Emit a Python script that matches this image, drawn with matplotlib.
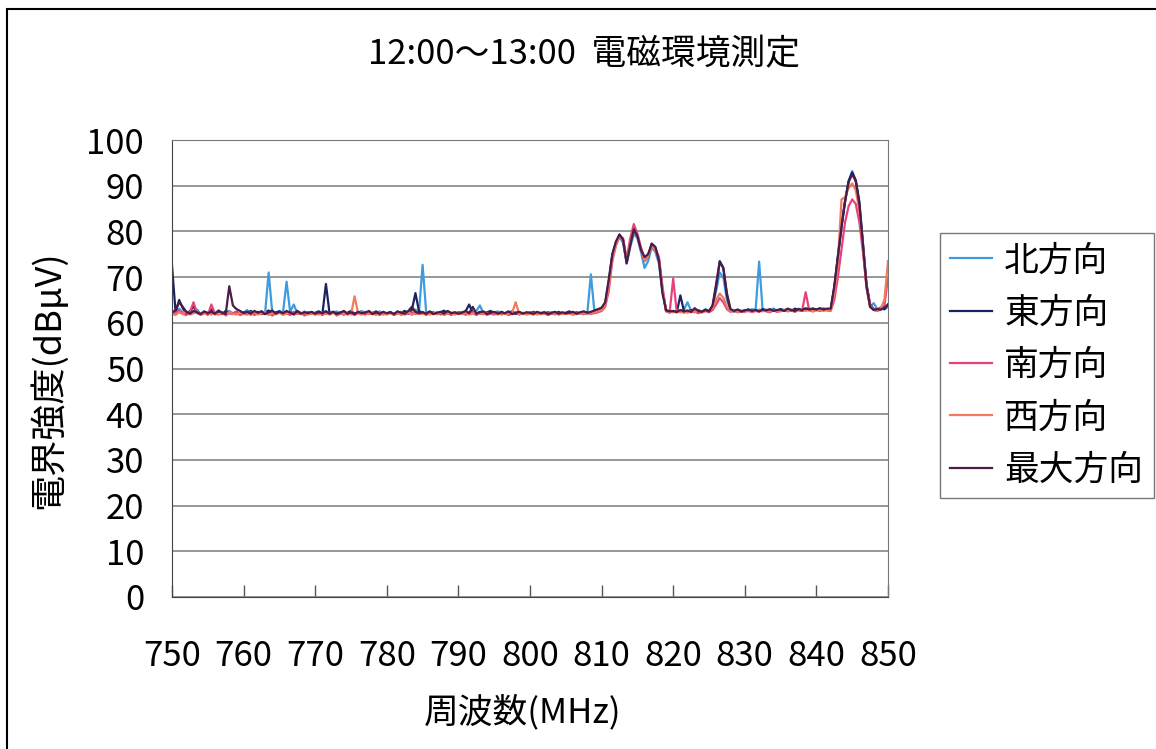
import numpy as np
import matplotlib
matplotlib.use('Agg')
import matplotlib.pyplot as plt
from matplotlib.patches import Rectangle

plt.rcParams['font.family'] = ['Noto Sans CJK JP', 'DejaVu Sans']

# 周波数 750〜850 MHz、0.5 MHz 間隔 (201 点)
freq = np.linspace(750, 850, 201)

north = [
    62.4, 62.0, 63.1, 62.2, 61.8, 62.6, 62.1, 62.9, 61.9, 62.3, 62.0, 62.7, 61.8, 62.4, 62.2, 61.9, 62.6, 62.1, 62.3, 61.8,
    62.2, 62.8, 61.9, 62.4, 62.0, 62.5, 62.1, 71.0, 62.3, 62.0, 62.6, 62.2, 69.0, 62.4, 64.0, 62.1, 61.9, 62.5, 62.0, 62.3,
    61.9, 62.4, 62.1, 62.6, 61.8, 62.2, 62.5, 61.9, 62.3, 62.0, 62.4, 61.8, 62.2, 62.6, 62.0, 61.9, 62.3, 62.1, 62.5, 61.8,
    62.1, 62.4, 61.9, 62.3, 62.0, 62.6, 62.2, 61.8, 62.9, 62.4, 72.7, 62.3, 62.0, 62.4, 61.9, 62.2, 62.7, 62.1, 61.9, 62.3,
    62.0, 62.4, 61.8, 62.3, 62.1, 62.6, 63.8, 62.0, 62.3, 61.9, 62.2, 62.5, 61.8, 62.1, 62.4, 62.0, 62.3, 61.9, 62.2, 62.0,
    62.3, 61.9, 62.2, 62.0, 62.4, 61.8, 62.1, 62.3, 61.9, 62.2, 62.0, 62.4, 62.1, 61.9, 62.2, 62.3, 62.0, 70.6, 62.4, 62.6,
    63.2, 64.0, 68.5, 74.5, 77.0, 78.8, 77.5, 73.0, 76.5, 79.5, 78.5, 75.5, 72.0, 73.5, 76.5, 75.5, 73.0, 67.0, 62.8, 62.5,
    62.3, 62.7, 62.4, 62.9, 64.5, 62.6, 62.3, 62.8, 62.5, 62.9, 62.6, 63.5, 67.0, 71.0, 70.0, 65.0, 62.8, 62.5, 62.9, 62.6,
    62.8, 62.5, 63.0, 62.7, 73.4, 62.6, 62.9, 62.5, 63.1, 62.7, 62.9, 62.6, 63.0, 62.8, 62.5, 63.1, 62.7, 62.9, 63.2, 62.8,
    63.0, 62.8, 63.2, 62.9, 62.8, 67.5, 74.5, 81.0, 86.5, 91.0, 93.2, 91.0, 85.5, 77.0, 68.0, 63.5, 64.3, 63.0, 63.4, 62.9,
    63.5,
]

east = [
    72.5, 62.3, 65.0, 63.2, 62.0, 62.5, 63.6, 62.2, 61.8, 62.4, 62.1, 62.9, 62.0, 62.3, 61.9, 62.6, 62.2, 62.0, 62.4, 61.9,
    62.3, 62.0, 62.6, 62.1, 62.4, 61.9, 62.2, 62.7, 62.0, 62.3, 62.5, 61.9, 62.2, 62.4, 62.0, 62.6, 62.1, 61.9, 62.3, 62.0,
    62.2, 62.5, 61.9, 68.5, 62.1, 62.4, 62.0, 62.3, 61.8, 62.2, 62.6, 62.0, 62.3, 61.9, 62.4, 62.1, 62.0, 62.5, 61.9, 62.2,
    62.0, 62.3, 61.9, 62.4, 62.1, 62.6, 62.0, 62.8, 66.5, 62.5, 62.3, 62.0, 62.4, 62.1, 61.9, 62.3, 62.6, 62.0, 62.2, 61.9,
    62.3, 62.1, 62.5, 64.0, 62.2, 61.9, 62.4, 62.0, 62.3, 62.6, 62.1, 61.9, 62.4, 62.0, 62.2, 62.5, 61.9, 62.3, 62.0, 62.2,
    62.1, 62.4, 61.9, 62.2, 62.0, 62.3, 62.1, 61.9, 62.4, 62.0, 62.2, 62.5, 62.0, 62.3, 62.1, 62.4, 62.2, 62.0, 62.5, 62.8,
    63.0, 64.2, 69.0, 75.0, 77.5, 79.3, 78.0, 73.2, 77.3, 80.3, 79.0, 76.0, 73.5, 74.5, 77.3, 76.5, 74.0, 67.0, 62.8, 62.4,
    62.5, 62.3, 66.0, 62.6, 62.4, 62.8, 62.5, 62.7, 62.3, 62.9, 62.6, 63.6, 68.0, 73.5, 72.0, 66.0, 62.8, 62.5, 62.8, 62.4,
    62.6, 62.9, 62.5, 62.8, 62.6, 63.0, 62.7, 62.5, 62.9, 62.6, 63.0, 62.7, 62.9, 62.6, 63.1, 62.8, 62.6, 63.0, 62.8, 63.1,
    62.9, 63.1, 62.8, 63.0, 63.0, 67.8, 74.4, 81.0, 86.7, 91.0, 92.9, 91.2, 86.5, 77.5, 68.5, 64.0, 63.0, 62.8, 63.2, 63.0,
    64.0,
]

south = [
    61.8, 62.2, 62.6, 62.0, 61.7, 62.3, 64.5, 62.1, 61.9, 62.4, 61.7, 64.0, 62.0, 61.8, 62.3, 61.6, 62.1, 61.9, 62.4, 61.7,
    62.0, 61.8, 62.3, 61.7, 62.1, 62.5, 61.9, 62.2, 61.6, 62.0, 62.3, 61.8, 62.1, 61.7, 62.4, 61.9, 62.2, 61.6, 62.0, 62.3,
    61.8, 62.1, 61.7, 62.2, 61.9, 62.4, 61.6, 62.0, 62.3, 61.8, 62.1, 61.7, 62.2, 62.0, 61.8, 62.4, 61.9, 62.1, 61.7, 62.2,
    61.9, 62.2, 61.7, 62.0, 62.4, 61.8, 62.1, 62.3, 61.9, 62.0, 62.2, 61.7, 62.1, 61.9, 62.3, 61.8, 62.0, 62.2, 61.7, 62.1,
    61.9, 62.2, 61.8, 62.0, 62.3, 61.7, 62.1, 61.9, 62.2, 62.0, 61.8, 62.3, 61.9, 62.1, 61.7, 62.0, 62.2, 61.8, 62.1, 61.9,
    62.0, 61.8, 62.2, 61.9, 62.1, 61.7, 62.0, 62.3, 61.8, 62.1, 61.9, 62.2, 61.8, 62.0, 62.1, 61.9, 62.2, 62.0, 62.1, 62.3,
    62.6, 63.5, 67.0, 73.5, 77.0, 79.0, 78.5, 74.0, 78.5, 81.6, 79.5, 76.5, 74.0, 75.0, 77.0, 76.0, 74.5, 68.0, 62.5, 62.2,
    69.7, 62.3, 62.5, 62.2, 62.6, 62.3, 62.5, 62.1, 62.4, 62.6, 62.3, 62.8, 64.0, 65.4, 64.5, 63.0, 62.4, 62.6, 62.3, 62.5,
    62.4, 62.7, 62.3, 62.6, 62.4, 62.8, 62.5, 62.3, 62.7, 62.4, 62.6, 62.8, 62.5, 62.7, 62.4, 62.9, 62.6, 66.7, 62.7, 62.5,
    62.8, 62.6, 62.9, 62.7, 62.6, 65.0, 70.0, 76.0, 82.0, 85.5, 87.0, 86.0, 82.0, 75.5, 68.0, 64.0, 62.8, 62.6, 62.9, 63.8,
    70.0,
]

west = [
    62.0, 61.7, 62.3, 61.9, 62.5, 61.8, 62.1, 62.4, 61.7, 62.0, 62.2, 61.8, 62.3, 61.9, 62.1, 61.7, 62.4, 62.0, 61.8, 62.2,
    61.9, 62.1, 61.7, 62.3, 61.8, 62.0, 62.4, 61.7, 62.1, 61.9, 62.2, 61.8, 62.0, 62.3, 61.7, 62.1, 61.9, 62.2, 61.8, 62.0,
    62.1, 61.8, 62.2, 61.9, 62.0, 62.3, 61.7, 62.1, 61.9, 62.2, 61.8, 65.8, 62.0, 61.8, 62.3, 61.9, 62.1, 61.7, 62.2, 62.0,
    61.8, 62.1, 61.9, 62.2, 61.7, 62.0, 62.3, 61.8, 62.1, 61.9, 62.0, 62.2, 61.8, 62.1, 61.9, 62.3, 61.7, 62.0, 62.2, 61.8,
    62.1, 61.9, 62.2, 61.8, 62.0, 62.3, 61.9, 62.1, 61.7, 62.0, 62.2, 61.8, 62.1, 61.9, 62.0, 62.2, 64.5, 61.9, 62.1, 61.8,
    62.0, 62.2, 61.8, 62.1, 61.9, 62.0, 62.3, 61.8, 62.1, 61.9, 62.2, 62.0, 61.8, 62.1, 62.0, 62.2, 61.9, 62.1, 62.3, 62.5,
    62.8, 63.8, 68.0, 74.0, 77.0, 79.0, 78.0, 73.5, 77.5, 80.5, 79.0, 76.0, 73.5, 74.5, 76.8, 76.0, 74.0, 67.5, 62.6, 62.3,
    62.4, 62.6, 62.3, 62.5, 62.2, 62.6, 62.4, 62.7, 62.3, 62.5, 62.7, 63.2, 65.0, 66.4, 65.5, 63.5, 62.5, 62.7, 62.4, 62.6,
    62.5, 62.8, 62.4, 62.6, 62.9, 62.5, 62.7, 62.4, 62.8, 62.6, 62.5, 62.9, 62.6, 62.8, 62.5, 62.7, 62.9, 62.6, 62.8, 62.5,
    62.7, 62.9, 62.6, 62.8, 62.7, 66.5, 73.0, 87.0, 87.5, 89.5, 90.5, 89.0, 84.5, 76.5, 67.5, 63.5, 62.9, 62.7, 63.2, 65.0,
    73.5,
]

maximum = [
    62.2, 62.8, 64.5, 63.5, 62.4, 62.0, 62.6, 62.3, 61.9, 62.5, 62.1, 62.4, 62.0, 62.7, 62.2, 61.9, 68.0, 63.8, 63.0, 62.6,
    62.1, 62.4, 62.0, 62.6, 62.2, 62.5, 61.9, 62.3, 62.7, 62.0, 62.4, 62.1, 62.6, 62.2, 61.9, 62.5, 62.0, 62.3, 62.1, 62.4,
    62.0, 62.3, 62.1, 62.5, 62.0, 62.4, 61.9, 62.2, 62.6, 62.0, 62.3, 61.9, 62.4, 62.1, 62.2, 62.6, 61.9, 62.3, 62.0, 62.4,
    62.1, 62.3, 61.9, 62.5, 62.2, 62.0, 62.6, 63.5, 62.4, 62.1, 62.3, 62.0, 62.5, 61.9, 62.2, 62.4, 62.0, 62.6, 62.1, 62.3,
    62.0, 62.2, 62.6, 62.1, 63.5, 62.0, 62.3, 62.5, 61.9, 62.2, 62.4, 62.0, 62.3, 62.1, 62.5, 61.9, 62.2, 62.4, 62.0, 62.3,
    62.2, 62.0, 62.4, 62.1, 62.3, 61.9, 62.2, 62.4, 62.0, 62.3, 62.1, 62.2, 62.4, 62.0, 62.3, 62.5, 62.2, 62.4, 62.7, 63.0,
    63.3, 64.5, 69.5, 75.0, 77.8, 79.3, 78.2, 73.0, 77.0, 80.5, 79.0, 76.0, 74.4, 75.0, 77.3, 76.6, 73.7, 66.5, 62.7, 62.5,
    62.6, 62.4, 62.8, 62.5, 62.7, 62.4, 63.2, 62.6, 62.4, 62.8, 62.5, 63.8, 68.5, 73.3, 72.0, 66.5, 63.0, 62.6, 62.9, 62.5,
    62.7, 62.9, 62.6, 62.8, 62.5, 62.9, 62.7, 63.0, 62.6, 62.8, 62.9, 62.6, 63.1, 62.8, 62.6, 63.0, 62.8, 63.2, 62.9, 63.1,
    62.9, 63.2, 62.9, 63.1, 63.1, 68.0, 74.5, 81.0, 86.5, 90.8, 92.5, 91.0, 86.0, 77.0, 68.0, 63.5, 62.8, 63.0, 62.9, 63.3,
    64.0,
]

series = [north, east, south, west, maximum]
labels = ['北方向', '東方向', '南方向', '西方向', '最大方向']
colors = ['#3d9be0', '#1b2260', '#e8427c', '#f27b5b', '#4b1c47']

W, H = 1156, 749
fig = plt.figure(figsize=(W / 100, H / 100), dpi=100)
fig.patch.set_facecolor('white')

# 外枠
fig.patches.append(Rectangle((7 / W, -0.05), 1.2, 1 - 9 / H + 0.05, transform=fig.transFigure,
                             fill=False, edgecolor='black', linewidth=1.5))

ax = fig.add_axes([172 / W, 1 - 597 / H, (888 - 172) / W, (597 - 140) / H])

for y, lab, c in zip(series, labels, colors):
    ax.plot(freq, y, color=c, linewidth=1.6, label=lab)

ax.set_xlim(750, 850)
ax.set_ylim(0, 100)
ax.set_xticks(np.arange(750, 851, 10))
ax.set_yticks(np.arange(0, 101, 10))
ax.yaxis.grid(True, color='#7a7a7a', linewidth=1.1)
ax.set_axisbelow(True)

ax.tick_params(axis='x', direction='in', length=9, width=1, color='#555555', labelsize=25, pad=30)
ax.tick_params(axis='y', length=0, labelsize=25, pad=20)
for s in ['left', 'bottom']:
    ax.spines[s].set_color('#444444')
for s in ['top', 'right']:
    ax.spines[s].set_color('#777777')

fig.text(584 / W, 1 - 55 / H, '12:00～13:00  電磁環境測定', ha='center', va='center', fontsize=25)
fig.text(523 / W, 1 - 712 / H, '周波数(MHz)', ha='center', va='center', fontsize=25)
fig.text(48 / W, 1 - 380 / H, '電界強度(dBμV)', ha='center', va='center', fontsize=26, rotation=90)

leg = ax.legend(loc='upper left', bbox_to_anchor=(940 / W, 1 - 233 / H), bbox_transform=fig.transFigure,
                fontsize=25, frameon=True, fancybox=False, edgecolor='#555555', handlelength=1.2,
                handletextpad=0.35, labelspacing=0.5, borderpad=0.3, borderaxespad=0)
leg.get_frame().set_linewidth(1.0)

fig.savefig('out.png', dpi=100, facecolor='white')
